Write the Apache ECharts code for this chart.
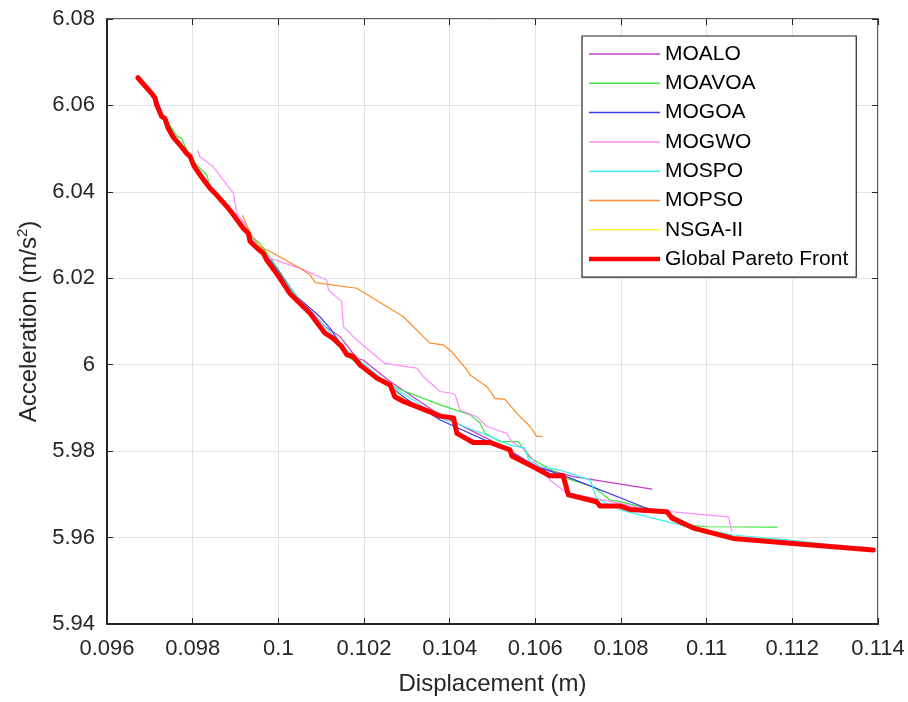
<!DOCTYPE html>
<html>
<head>
<meta charset="utf-8">
<script src="https://cdn.jsdelivr.net/npm/echarts@6/dist/echarts.min.js"></script>
<style>html,body{margin:0;padding:0;background:#fff;}#c{width:908px;height:702px;}</style>
</head>
<body>
<div id="c"></div>
<script>
var seriesNames = ['MOALO','MOAVOA','MOGOA','MOGWO','MOSPO','MOPSO','NSGA-II','Global Pareto Front'];
var xTicks = [0.096,0.098,0.1,0.102,0.104,0.106,0.108,0.11,0.112,0.114];
var yTicks = [5.94,5.96,5.98,6,6.02,6.04,6.06,6.08];

var moalo = [[0.09740,6.0552],[0.09790,6.0486],[0.09850,6.0402],[0.09920,6.0318],[0.09980,6.0236],[0.10050,6.0150],[0.10110,6.0088],[0.10144,6.0065],[0.10183,6.0015],[0.10198,6.0011],[0.10261,5.9961],[0.10370,5.9888],[0.10450,5.9848],[0.10530,5.9808],[0.10603,5.9764],[0.10689,5.9741],[0.10872,5.9712]];
var moavoa = [[0.09735,6.0572],[0.09763,6.0529],[0.09774,6.0524],[0.09790,6.0489],[0.09809,6.0463],[0.09833,6.0439],[0.09840,6.0412],[0.09880,6.0366],[0.09918,6.0318],[0.09942,6.0293],[0.09957,6.0281],[0.09990,6.0235],[0.10040,6.0160],[0.10090,6.0100],[0.10105,6.0080],[0.10160,6.0022],[0.10200,5.9990],[0.10245,5.9961],[0.10276,5.9946],[0.10378,5.9907],[0.10448,5.9884],[0.10471,5.9865],[0.10483,5.9841],[0.10518,5.9822],[0.10560,5.9822],[0.10588,5.9784],[0.10673,5.9737],[0.10735,5.9718],[0.10774,5.9687],[0.10798,5.9683],[0.10911,5.9656],[0.10930,5.9645],[0.10961,5.9629],[0.11000,5.9625],[0.11164,5.9624]];
var mogoa = [[0.09712,6.0625],[0.09730,6.0578],[0.09760,6.0525],[0.09800,6.0465],[0.09850,6.0400],[0.09900,6.0340],[0.09950,6.0275],[0.09981,6.0242],[0.10043,6.0158],[0.10097,6.0111],[0.10121,6.0084],[0.10160,6.0027],[0.10190,6.0000],[0.10250,5.9958],[0.10300,5.9920],[0.10378,5.9872],[0.10533,5.9803],[0.10603,5.9764],[0.10673,5.9741],[0.10860,5.9668],[0.10907,5.9656],[0.10969,5.9625],[0.11000,5.9612]];
var mogwo = [[0.09812,6.0495],[0.09817,6.0481],[0.09848,6.0458],[0.09895,6.0397],[0.09903,6.0351],[0.09926,6.0320],[0.09950,6.0273],[0.09981,6.0246],[0.10051,6.0223],[0.10113,6.0196],[0.10117,6.0173],[0.10148,6.0146],[0.10152,6.0088],[0.10183,6.0057],[0.10249,6.0003],[0.10323,5.9992],[0.10339,5.9972],[0.10378,5.9938],[0.10405,5.9934],[0.10413,5.9930],[0.10424,5.9895],[0.10463,5.9880],[0.10487,5.9857],[0.10533,5.9841],[0.10545,5.9822],[0.10576,5.9803],[0.10634,5.9733],[0.10673,5.9703],[0.10770,5.9685],[0.10850,5.9668],[0.10915,5.9660],[0.11051,5.9648],[0.11059,5.9614]];
var mospo = [[0.09760,6.0520],[0.09900,6.0340],[0.10050,6.0150],[0.10160,6.0034],[0.10250,5.9960],[0.10320,5.9915],[0.10378,5.9876],[0.10424,5.9861],[0.10494,5.9834],[0.10541,5.9814],[0.10576,5.9807],[0.10584,5.9780],[0.10611,5.9764],[0.10658,5.9756],[0.10728,5.9733],[0.10743,5.9691],[0.10798,5.9664],[0.10891,5.9641],[0.10938,5.9629],[0.11062,5.9606],[0.11195,5.9594],[0.11350,5.9576]];
var mopso = [[0.09917,6.0345],[0.09934,6.0304],[0.09957,6.0273],[0.09981,6.0262],[0.10051,6.0223],[0.10074,6.0208],[0.10086,6.0190],[0.10183,6.0177],[0.10292,6.0111],[0.10354,6.0050],[0.10385,6.0046],[0.10405,6.0030],[0.10440,5.9988],[0.10448,5.9976],[0.10487,5.9949],[0.10506,5.9922],[0.10529,5.9920],[0.10560,5.9884],[0.10588,5.9857],[0.10603,5.9834],[0.10615,5.9834]];
var nsga2 = [[0.10200,5.9987],[0.10250,5.9958],[0.10300,5.9914],[0.10350,5.9892],[0.10400,5.9878]];
var globalFront = [[0.09672,6.0664],[0.09704,6.0628],[0.09712,6.0617],[0.09716,6.0601],[0.09728,6.0574],[0.09735,6.0570],[0.09743,6.0547],[0.09755,6.0526],[0.09770,6.0509],[0.09786,6.0489],[0.09794,6.0482],[0.09802,6.0462],[0.09817,6.0439],[0.09841,6.0408],[0.09852,6.0397],[0.09880,6.0366],[0.09895,6.0347],[0.09918,6.0316],[0.09930,6.0304],[0.09934,6.0285],[0.09950,6.0270],[0.09965,6.0258],[0.09973,6.0242],[0.10004,6.0200],[0.10027,6.0165],[0.10074,6.0119],[0.10109,6.0073],[0.10128,6.0061],[0.10148,6.0042],[0.10160,6.0023],[0.10175,6.0019],[0.10191,5.9999],[0.10230,5.9969],[0.10253,5.9957],[0.10261,5.9953],[0.10272,5.9926],[0.10292,5.9915],[0.10323,5.9903],[0.10354,5.9891],[0.10378,5.9881],[0.10409,5.9877],[0.10417,5.9841],[0.10455,5.9820],[0.10494,5.9820],[0.10541,5.9803],[0.10545,5.9789],[0.10595,5.9764],[0.10634,5.9743],[0.10665,5.9743],[0.10677,5.9699],[0.10743,5.9683],[0.10751,5.9673],[0.10798,5.9673],[0.10821,5.9665],[0.10907,5.9660],[0.10919,5.9645],[0.10969,5.9622],[0.11062,5.9598],[0.11195,5.9587],[0.11389,5.9571]];

var seriesData = [moalo, moavoa, mogoa, mogwo, mospo, mopso, nsga2, globalFront];
var colors = ['#c83cc8','#3ce63c','#3c3cf0','#ff8cff','#3cf0f0','#ff8c28','#ffff3c','#ff0000'];
var widths = [1.2,1.2,1.2,1.2,1.2,1.2,1.2,5];

var FONT = "'Liberation Sans', Arial, Helvetica, sans-serif";
var chart = echarts.init(document.getElementById('c'), null, {renderer:'canvas'});

function fmt(v){ return String(+(+v).toFixed(4)); }

var series = seriesNames.map(function(n,i){
  return {
    name:n, type:'line', data:seriesData[i], symbol:'none', showSymbol:false,
    lineStyle:{color:colors[i], width:widths[i], join:'round', cap:'round'},
    itemStyle:{color:colors[i]},
    z: i===7 ? 5 : 3, silent:true, animation:false
  };
});

var legendData = seriesNames.map(function(n,i){
  var h = i===7 ? 4.5 : 1.5;
  return {name:n, icon:'path://M0,0L71,0L71,' + h + 'L0,' + h + 'Z', itemStyle:{color:colors[i], borderWidth:0}};
});

var axisTextColor = '#262626';
chart.setOption({
  animation:false,
  backgroundColor:'#fff',
  textStyle:{fontFamily:FONT},
  grid:{left:107, right:30, top:19, bottom:78, show:true, borderColor:'#262626', borderWidth:1.5, backgroundColor:'transparent'},
  legend:{
    orient:'vertical', left:582, top:36,
    data:legendData, symbolKeepAspect:true,
    backgroundColor:'#fff', borderColor:'#262626', borderWidth:1.2,
    padding:[7,8,7,7], itemGap:7.3, itemWidth:71, itemHeight:14,
    textStyle:{fontFamily:FONT, fontSize:21, color:'#000', lineHeight:22},
    selectedMode:false
  },
  xAxis:[{
    type:'value', min:0.096, max:0.114, interval:0.002,
    name:'Displacement (m)', nameLocation:'middle', nameGap:48,
    nameTextStyle:{fontFamily:FONT, fontSize:24, color:axisTextColor},
    axisLine:{show:true, onZero:false, lineStyle:{color:'#262626', width:2}},
    axisTick:{show:true, inside:true, length:6, lineStyle:{color:'#262626', width:1}},
    axisLabel:{margin:14, fontFamily:FONT, fontSize:22, color:axisTextColor, formatter:function(v){return fmt(v);}},
    splitLine:{show:true, lineStyle:{color:'#e2e2e2', width:1}}
  },{
    type:'value', position:'top', min:0.096, max:0.114, interval:0.002,
    axisLine:{show:false}, axisLabel:{show:false}, splitLine:{show:false},
    axisTick:{show:true, inside:true, length:6, lineStyle:{color:'#262626', width:1}}
  }],
  yAxis:[{
    type:'value', min:5.94, max:6.08, interval:0.02,
    name:'Acceleration (m/s{sup|2})', nameLocation:'middle', nameGap:64, nameRotate:90,
    nameTextStyle:{fontFamily:FONT, fontSize:24, color:axisTextColor,
      rich:{sup:{fontFamily:FONT, fontSize:15, color:axisTextColor, verticalAlign:'bottom', padding:[0,0,12,0]}}},
    axisLine:{show:true, onZero:false, lineStyle:{color:'#262626', width:2}},
    axisTick:{show:true, inside:true, length:6, lineStyle:{color:'#262626', width:1}},
    axisLabel:{margin:12, fontFamily:FONT, fontSize:22, color:axisTextColor, formatter:function(v){return fmt(v);}},
    splitLine:{show:true, lineStyle:{color:'#e2e2e2', width:1}}
  },{
    type:'value', position:'right', min:5.94, max:6.08, interval:0.02,
    axisLine:{show:false}, axisLabel:{show:false}, splitLine:{show:false},
    axisTick:{show:true, inside:true, length:6, lineStyle:{color:'#262626', width:1}}
  }],
  series:series
});
</script>
</body>
</html>
